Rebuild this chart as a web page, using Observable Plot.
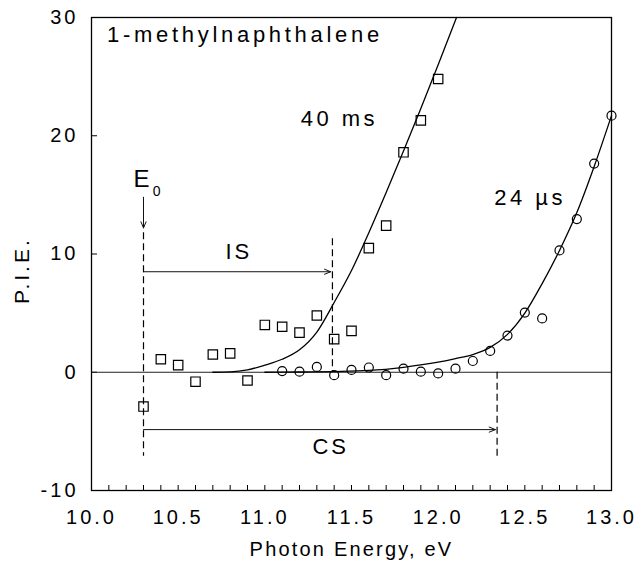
<!DOCTYPE html>
<html><head><meta charset="utf-8">
<script src="https://cdn.jsdelivr.net/npm/d3@7"></script>
<script src="https://cdn.jsdelivr.net/npm/@observablehq/plot@0.6"></script>
<style>
html,body{margin:0;padding:0;background:#fff;}
#chart svg text{letter-spacing:3px;}
</style>
</head><body><div id="chart"></div>
<script>
// 40 ms data (squares)
const sqX = [10.3,10.4,10.5,10.6,10.7,10.8,10.9,11.0,11.1,11.2,11.3,11.4,11.5,11.6,11.7,11.8,11.9,12.0];
const sqY = [-2.9,1.1,0.6,-0.8,1.5,1.6,-0.7,4.0,3.85,3.35,4.8,2.8,3.5,10.5,12.4,18.6,21.3,24.8];
// 24 µs data (circles)
const ciX = [11.1,11.2,11.3,11.4,11.5,11.6,11.7,11.8,11.9,12.0,12.1,12.2,12.3,12.4,12.5,12.6,12.7,12.8,12.9,13.0];
const ciY = [0.1,0.05,0.45,-0.25,0.2,0.4,-0.25,0.3,0.05,-0.1,0.3,0.95,1.8,3.1,5.05,4.55,10.3,12.95,17.65,21.7];
// fitted curves
const fit40X = [10.7,10.8,10.9,11.0,11.1,11.2,11.3,11.4,11.5,11.6,11.7,11.8,11.9,12.0,12.106];
const fit40Y = [0,0.03,0.2,0.6,1.1,1.9,3.4,5.9,8.6,11.8,15.2,18.7,22.3,26.0,30];
const fit24X = [11.0,11.2,11.4,11.6,11.8,12.0,12.1,12.2,12.3,12.4,12.5,12.6,12.7,12.8,12.9,13.0];
const fit24Y = [0,0.02,0.06,0.15,0.42,0.85,1.15,1.5,2.1,3.2,5.0,7.5,10.3,13.5,17.4,21.7];
// ticks
const xTicks = [10.0,10.5,11.0,11.5,12.0,12.5,13.0];
const xMinor = [10.1,10.2,10.3,10.4,10.5,10.6,10.7,10.8,10.9,11.0,11.1,11.2,11.3,11.4,11.5,11.6,11.7,11.8,11.9,12.0,12.1,12.2,12.3,12.4,12.5,12.6,12.7,12.8,12.9];
const yTicks = [-10,0,10,20,30];
const yMinor = [0,10,20];
// annotations
const dashX = [10.3, 11.39, 12.34];
const dashY1 = [11.8, 11.3, 0];
const dashY2 = [-7.1, 0, -7.1];
const arrowX1 = [10.3, 10.3, 10.3];
const arrowX2 = [11.38, 12.33, 10.3];
const arrowY1 = [8.5, -4.85, 14.8];
const arrowY2 = [8.5, -4.85, 12.2];
const seriesLabels = ["40 ms", "24 µs"];
const seriesLabelX = [11.43, 12.53];
const seriesLabelY = [21.4, 14.7];
const spanLabels = ["IS", "CS"];
const spanLabelX = [10.85, 11.38];
const spanLabelY = [10.2, -6.3];
const titleText = "1-methylnaphthalene";
const yAxisTitle = "P.I.E.";
const xAxisTitle = "Photon Energy, eV";

const sq = sqX.map((x,i)=>({x, y: sqY[i]}));
const ci = ciX.map((x,i)=>({x, y: ciY[i]}));
const f40 = fit40X.map((x,i)=>({x, y: fit40Y[i]}));
const f24 = fit24X.map((x,i)=>({x, y: fit24Y[i]}));
const dashes = dashX.map((x,i)=>({x, y1: dashY1[i], y2: dashY2[i]}));
const arrows = arrowX1.map((x1,i)=>({x1, x2: arrowX2[i], y1: arrowY1[i], y2: arrowY2[i]}));
const sLab = seriesLabels.map((t,i)=>({t, x: seriesLabelX[i], y: seriesLabelY[i]}));
const spLab = spanLabels.map((t,i)=>({t, x: spanLabelX[i], y: spanLabelY[i]}));

const W = 636, H = 569, mL = 91, mR = 25, mT = 17, mB = 79;
const pw = W - mL - mR, ph = H - mT - mB;

const chart = Plot.plot({
  width: W, height: H,
  marginLeft: mL, marginRight: mR, marginTop: mT, marginBottom: mB,
  style: {fontFamily: "'Liberation Sans', Arial, sans-serif", fontSize: "20px", background: "#fff", color: "#000", overflow: "visible"},
  x: {domain: [10, 13]},
  y: {domain: [-10, 30]},
  marks: [
    Plot.axisY({ticks: yTicks, tickFormat: d => String(d), tickSize: 0, tickPadding: 13, label: null, fontSize: 20}),
    Plot.axisX({ticks: xTicks, tickFormat: d3.format(".1f"), tickSize: 0, tickPadding: 19, label: null, fontSize: 20}),
    Plot.tickY(yMinor, {y: d=>d, insetRight: pw - 6, strokeWidth: 1}),
    Plot.tickX(xMinor, {x: d=>d, insetTop: ph - 5, strokeWidth: 1}),
    Plot.ruleY([0], {stroke: "#222", strokeWidth: 1}),
    Plot.ruleX(dashes, {x: "x", y1: "y1", y2: "y2", strokeDasharray: "7,4", strokeWidth: 1.2}),
    Plot.arrow(arrows, {x1: "x1", y1: "y1", x2: "x2", y2: "y2", headLength: 10, headAngle: 45, strokeWidth: 1, stroke: "#111"}),
    Plot.line(f40, {x: "x", y: "y", curve: "monotone-x", strokeWidth: 1.3}),
    Plot.line(f24, {x: "x", y: "y", curve: "monotone-x", strokeWidth: 1.3}),
    Plot.dot(sq, {x: "x", y: "y", symbol: "square", r: 5.3, stroke: "#000", strokeWidth: 1.2, fill: "none"}),
    Plot.dot(ci, {x: "x", y: "y", symbol: "circle", r: 4.5, stroke: "#000", strokeWidth: 1.2, fill: "none"}),
    Plot.text([titleText], {x: 10.09, y: 28.5, text: d=>d, textAnchor: "start", fontSize: 22}),
    Plot.text(sLab, {x: "x", y: "y", text: "t", fontSize: 22}),
    Plot.text(spLab, {x: "x", y: "y", text: "t", fontSize: 22}),
    Plot.text(["E"], {x: 10.297, y: 16.3, text: d=>d, fontSize: 24}),
    Plot.text(["0"], {x: 10.385, y: 15.3, text: d=>d, fontSize: 14}),
    Plot.text([yAxisTitle], {x: 9.6, y: 8.6, rotate: -90, text: d=>d, fontSize: 21}),
    Plot.text([xAxisTitle], {frameAnchor: "bottom", dy: 65, text: d=>d, fontSize: 20}),
    Plot.frame({strokeWidth: 1.3})
  ]
});
const spacing = new Map([[titleText, "3.7px"], [xAxisTitle, "2.2px"], ["40 ms", "3.5px"], ["24 µs", "3.5px"]]);
d3.select(chart).selectAll("text").each(function() {
  const s = spacing.get(this.textContent);
  if (s) this.style.letterSpacing = s;
});
document.getElementById("chart").appendChild(chart);
</script>
</body></html>
